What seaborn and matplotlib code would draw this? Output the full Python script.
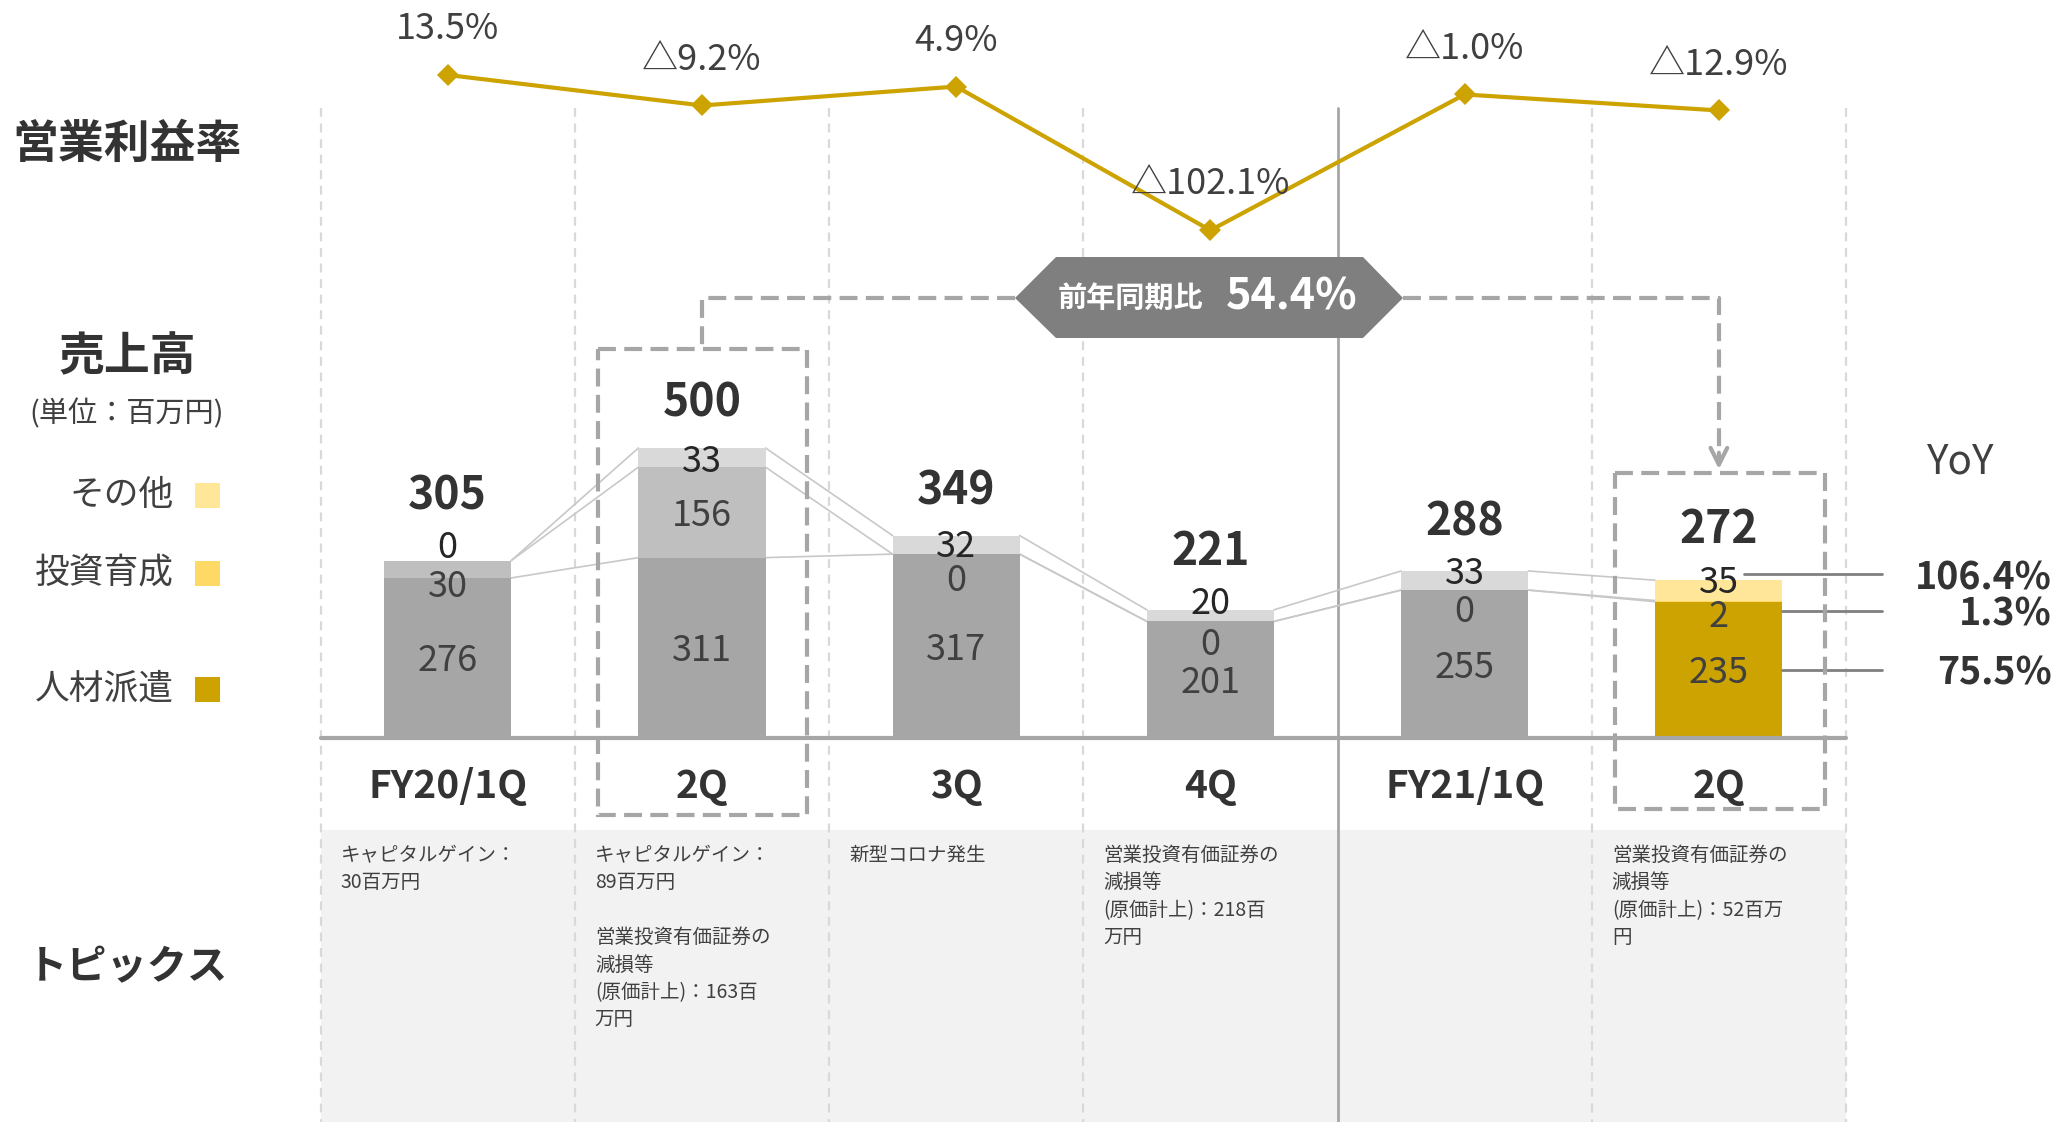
import numpy as np
import matplotlib
matplotlib.use("Agg")
import matplotlib.pyplot as plt
from matplotlib.patches import Polygon, Rectangle
import seaborn as sns

# ---------------- Data ----------------
periods = ["FY20/1Q", "FY20/2Q", "FY20/3Q", "FY20/4Q", "FY21/1Q", "FY21/2Q"]
period_labels = ["FY20/1Q", "2Q", "3Q", "4Q", "FY21/1Q", "2Q"]
staffing = [276, 311, 317, 201, 255, 235]      # 人材派遣
investment = [30, 156, 0, 0, 0, 2]             # 投資育成
other = [0, 33, 32, 20, 33, 35]                # その他
totals = [305, 500, 349, 221, 288, 272]
op_margin = [13.5, -9.2, 4.9, -102.1, -1.0, -12.9]   # 営業利益率 (%)
yoy_labels = ["106.4%", "1.3%", "75.5%"]
yoy_total = "54.4%"
topics = [
    "キャピタルゲイン：\n30百万円",
    "キャピタルゲイン：\n89百万円\n\n営業投資有価証券の\n減損等\n(原価計上)：163百\n万円",
    "新型コロナ発生",
    "営業投資有価証券の\n減損等\n(原価計上)：218百\n万円",
    "",
    "営業投資有価証券の\n減損等\n(原価計上)：52百万\n円",
]
legend_names = ["その他", "投資育成", "人材派遣"]

# ---------------- Style / layout ----------------
grey = ["#A6A6A6", "#BFBFBF", "#D9D9D9"]
gold = ["#CCA300", "#FFD966", "#FFE699"]
highlight = [False, False, False, False, False, True]
top_nudge = [27, -18, -14, 16, 0, 2]      # label offsets (data units)
mid_nudge = [-9, 78, -41, -34, -32, -20]
LBL_SHIFT = -6                            # Noto digits sit a bit high with va=center
txt = "#404040"

sns.set_style("white")
plt.rcParams["font.family"] = ["Noto Sans CJK JP", "DejaVu Sans"]

W, H = 2060, 1122
LEFT, RIGHT, BASE = 320.6, 1846.0, 738.0
PX_PER_UNIT = 0.58
col_w = (RIGHT - LEFT) / 6

fig = plt.figure(figsize=(W / 100, H / 100), dpi=100)

# background layer in pixel coordinates
bg = fig.add_axes([0, 0, 1, 1], zorder=0)
bg.set_xlim(0, W)
bg.set_ylim(H, 0)
bg.axis("off")

bg.add_patch(Rectangle((LEFT, 830), RIGHT - LEFT, H - 830, fc="#F2F2F2", ec="none"))
for k in range(7):
    x = LEFT + k * col_w
    if k == 4:
        bg.plot([x, x], [108, H], color="#A6A6A6", lw=2)
    else:
        bg.plot([x, x], [108, H], color="#D9D9D9", lw=1.6, ls=(0, (4, 3)))

# left side labels
bg.text(127, 145, "営業利益率", fontsize=33, fontweight="bold", color="#333333", ha="center", va="center")
bg.text(127, 357, "売上高", fontsize=33, fontweight="bold", color="#333333", ha="center", va="center")
bg.text(127, 414, "(単位：百万円)", fontsize=21, color=txt, ha="center", va="center")
bg.text(127, 968, "トピックス", fontsize=29, fontweight="bold", color="#333333", ha="center", va="center")
for name, color, y in zip(legend_names, [gold[2], gold[1], gold[0]], [495, 573, 689]):
    bg.text(174, y, name, fontsize=25, color=txt, ha="right", va="center")
    bg.add_patch(Rectangle((195, y - 12), 25, 25, fc=color, ec="none"))

# topics + category labels
for k in range(6):
    bg.text(LEFT + k * col_w + 20, 845, topics[k], fontsize=14, color=txt,
            ha="left", va="top", linespacing=1.4)
    bg.text(LEFT + (k + 0.5) * col_w, 786, period_labels[k], fontsize=28,
            fontweight="bold", color="#333333", ha="center", va="center")

# ---------------- Stacked bars ----------------
ax = fig.add_axes([LEFT / W, (H - BASE) / H, (RIGHT - LEFT) / W, BASE / H], zorder=1)
ax.patch.set_visible(False)

cum1 = np.array(staffing)
cum2 = cum1 + np.array(investment)
cum3 = cum2 + np.array(other)
for layer, heights in [(2, cum3), (1, cum2), (0, cum1)]:
    pal = [gold[layer] if h else grey[layer] for h in highlight]
    sns.barplot(x=periods, y=heights, hue=periods, palette=pal, legend=False,
                width=0.5, saturation=1, errorbar=None, linewidth=0, ax=ax)

# connector lines between bars
for lvl in [cum1, cum2, cum3]:
    for i in range(5):
        ax.plot([i + 0.25, i + 0.75], [lvl[i], lvl[i + 1]], color="#C8C8C8", lw=1.2, zorder=0.5)

for i in range(6):
    ax.text(i, cum1[i] / 2 + LBL_SHIFT, str(staffing[i]), fontsize=26, color=txt, ha="center", va="center")
    ax.text(i, cum1[i] + mid_nudge[i] + LBL_SHIFT, str(investment[i]), fontsize=26, color=txt,
            ha="center", va="center")
    top_y = cum3[i] + top_nudge[i]
    ax.text(i, top_y + LBL_SHIFT, str(other[i]), fontsize=26, color="#262626", ha="center", va="center")
    ax.text(i, max(cum3[i] + 82, top_y + 90) + LBL_SHIFT, str(totals[i]), fontsize=32,
            fontweight="bold", color="#333333", ha="center", va="center")

ax.axhline(0, color="#A6A6A6", lw=3, clip_on=False)
ax.set_xlim(-0.5, 5.5)
ax.set_ylim(0, BASE / PX_PER_UNIT)
ax.axis("off")

# YoY annotations for the latest quarter
yoy_y = [cum3[5] + top_nudge[5] + 8, cum1[5] + mid_nudge[5] + 4, cum1[5] / 2]
yoy_x0 = [5.1, 5.25, 5.25]
for lab, y, x0 in zip(yoy_labels, yoy_y, yoy_x0):
    ax.plot([x0, 5.64], [y, y], color="#808080", lw=2, clip_on=False)
    ax.text(6.31, y + LBL_SHIFT, lab, fontsize=27, fontweight="bold", color="#333333",
            ha="right", va="center", clip_on=False)
ax.text(5.95, 475, "YoY", fontsize=29, color=txt, ha="center", va="center")

# ---------------- Operating margin line ----------------
ax2 = ax.twinx()
ax2.set_zorder(2)
ax2.patch.set_visible(False)
sns.lineplot(x=np.arange(6), y=op_margin, ax=ax2, color=gold[0], lw=3,
             marker="D", markersize=11, markeredgewidth=0)
for i, v in enumerate(op_margin):
    lab = f"{v:.1f}%" if v >= 0 else f"△{abs(v):.1f}%"
    ax2.annotate(lab, (i, v), xytext=(0, 33), textcoords="offset points",
                 ha="center", va="center", fontsize=26, color=txt)
ax2.set_xlim(-0.5, 5.5)
ax2.set_ylim(-479.9, 69.3)
ax2.axis("off")

# ---------------- Foreground: highlight boxes and YoY badge ----------------
fg = fig.add_axes([0, 0, 1, 1], zorder=3)
fg.patch.set_visible(False)
fg.set_xlim(0, W)
fg.set_ylim(H, 0)
fg.axis("off")

dash = dict(color="#A6A6A6", lw=3, ls=(0, (4.3, 2)))
fg.add_patch(Rectangle((598, 349), 209, 466, fill=False, ec="#A6A6A6", lw=3, ls=(0, (4.3, 2))))
fg.add_patch(Rectangle((1615, 473), 210, 336, fill=False, ec="#A6A6A6", lw=3, ls=(0, (4.3, 2))))
c2 = LEFT + 1.5 * col_w
c6 = LEFT + 5.5 * col_w
fg.plot([1015, c2, c2], [298, 298, 349], **dash)
fg.plot([1403, c6, c6], [298, 298, 462], **dash)
fg.annotate("", xy=(c6, 472), xytext=(c6, 450),
            arrowprops=dict(arrowstyle="->", color="#A6A6A6", lw=3, mutation_scale=30))

badge = Polygon([(1015, 298), (1056, 257), (1363, 257), (1403, 298), (1363, 338), (1056, 338)],
                closed=True, fc="#7F7F7F", ec="none")
fg.add_patch(badge)
fg.text(1130, 298, "前年同期比", fontsize=21, fontweight="bold", color="white", ha="center", va="center")
fg.text(1292, 296, yoy_total, fontsize=31, fontweight="bold", color="white", ha="center", va="center")

fig.savefig("out.png", dpi=100)
